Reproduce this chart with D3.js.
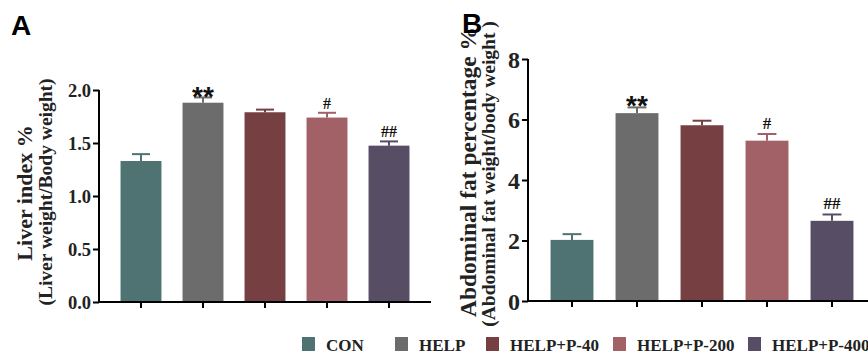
<!DOCTYPE html>
<html><head><meta charset="utf-8">
<script src="https://cdn.jsdelivr.net/npm/d3@7/dist/d3.min.js"></script>
<style>body{margin:0;background:#fff}svg{display:block}</style>
</head><body>
<svg id="c" width="868" height="354"></svg>
<script>
const categories = ["CON","HELP","HELP+P-40","HELP+P-200","HELP+P-400"];
const colors = ["#4f7373","#6c6c6c","#763f42","#a26167","#574d65"];
const liverMean = [1.33, 1.88, 1.79, 1.74, 1.475];
const liverErr  = [0.065, 0.05, 0.025, 0.045, 0.04];
const liverMarks = ["", "**", "", "#", "##"];
const fatMean = [2.02, 6.21, 5.81, 5.30, 2.65];
const fatErr  = [0.19, 0.19, 0.15, 0.22, 0.21];
const fatMarks = ["", "**", "", "#", "##"];
const liverTicks = [0, 0.5, 1.0, 1.5, 2.0];
const fatTicks = [0, 2, 4, 6, 8];

const svg = d3.select("#c");
const serif = "'Liberation Serif','Times New Roman',serif";
const sans = "'Liberation Sans',Arial,sans-serif";

function panel(o){
  const g = svg.append("g");
  const x = d3.scaleBand().domain(categories).range(o.xr).paddingInner(0.34).paddingOuter(0.17);
  const y = d3.scaleLinear().domain(o.dom).range(o.yr);
  g.selectAll("rect.bar").data(categories).join("rect")
    .attr("x", d => x(d)).attr("width", x.bandwidth())
    .attr("y", (d,i) => y(o.mean[i])).attr("height", (d,i) => y(0) - y(o.mean[i]))
    .attr("fill", (d,i) => colors[i]);
  const cap = x.bandwidth()*0.22;
  categories.forEach((d,i) => {
    const cx = x(d) + x.bandwidth()/2;
    const top = y(o.mean[i] + o.err[i]);
    g.append("line").attr("x1",cx).attr("x2",cx).attr("y1",y(o.mean[i])).attr("y2",top)
      .attr("stroke",colors[i]).attr("stroke-width",2);
    g.append("line").attr("x1",cx-cap).attr("x2",cx+cap).attr("y1",top).attr("y2",top)
      .attr("stroke",colors[i]).attr("stroke-width",2);
    const m = o.marks[i];
    if (m) {
      const isStar = m[0] === "*";
      g.append("text").attr("x",cx).attr("y", top - (isStar ? o.starOff : o.hashOff))
        .attr("text-anchor","middle")
        .style("font-family", isStar ? sans : serif)
        .style("font-weight","bold")
        .style("font-size", isStar ? o.starSize+"px" : o.hashSize+"px")
        .attr("fill","#111")
        .text(m);
    }
  });
  const ya = g.append("g").attr("transform",`translate(${o.xr0},0)`)
    .call(d3.axisLeft(y).tickValues(o.ticks).tickFormat(o.fmt).tickSize(6).tickPadding(2));
  ya.select(".domain").attr("stroke","#000").attr("stroke-width",2)
    .attr("d", `M-0,${y(o.dom[0])}V${y(o.dom[1])}`);
  ya.selectAll(".tick line").attr("stroke","#000").attr("stroke-width",2);
  ya.selectAll(".tick text").style("font-family",serif).style("font-weight","bold")
    .style("font-size",o.tickSize+"px").attr("fill","#222").attr("dy","0.34em");
  const xa = g.append("g").attr("transform",`translate(0,${y(0)})`)
    .call(d3.axisBottom(x).tickSize(6).tickFormat(""));
  xa.select(".domain").attr("stroke","#000").attr("stroke-width",2)
    .attr("d", `M${o.xr0-1},0H${o.xEnd}`);
  xa.selectAll(".tick line").attr("stroke","#000").attr("stroke-width",2);
  o.titles.forEach(t => {
    g.append("text").attr("transform",`translate(${t.x},${t.y}) rotate(-90)`)
      .attr("text-anchor","middle").style("font-family",serif).style("font-weight","bold")
      .style("font-size",t.size+"px").attr("fill","#222").text(t.text);
  });
  svg.append("text").attr("x",o.lab[0]).attr("y",o.lab[1]).style("font-family",sans)
    .style("font-weight","bold").style("font-size","28px").text(o.lab[2]);
}

panel({xr:[110,420], xr0:99, xEnd:431, dom:[0,2], yr:[302,90], mean:liverMean, err:liverErr,
  marks:liverMarks, ticks:liverTicks, fmt:d3.format(".1f"), tickSize:18.5,
  starOff:-9, hashOff:4, starSize:28, hashSize:16,
  titles:[{x:32,y:193,size:22,text:"Liver index %"},{x:52,y:192,size:19.5,text:"(Liver weight/Body weight)"}],
  lab:[11,35,"A"]});

panel({xr:[539.5,864.5], xr0:528, xEnd:868, dom:[0,8], yr:[301,59], mean:fatMean, err:fatErr,
  marks:fatMarks, ticks:fatTicks, fmt:d3.format("d"), tickSize:24,
  starOff:-8, hashOff:5, starSize:28, hashSize:17,
  titles:[{x:476,y:172,size:23.5,text:"Abdominal fat percentage %"},{x:495,y:174,size:19.5,text:"(Abdominal fat weight/body weight )"}],
  lab:[462,33,"B"]});

const legX = [302, 395, 486, 613, 748];
const leg = svg.append("g");
categories.forEach((c,i) => {
  leg.append("rect").attr("x",legX[i]).attr("y",337).attr("width",13).attr("height",14).attr("fill",colors[i]);
  leg.append("text").attr("x",legX[i]+24).attr("y",351).style("font-family",serif).style("font-weight","bold")
    .style("font-size","17px").attr("fill","#222").text(c);
});
</script>
</body></html>
